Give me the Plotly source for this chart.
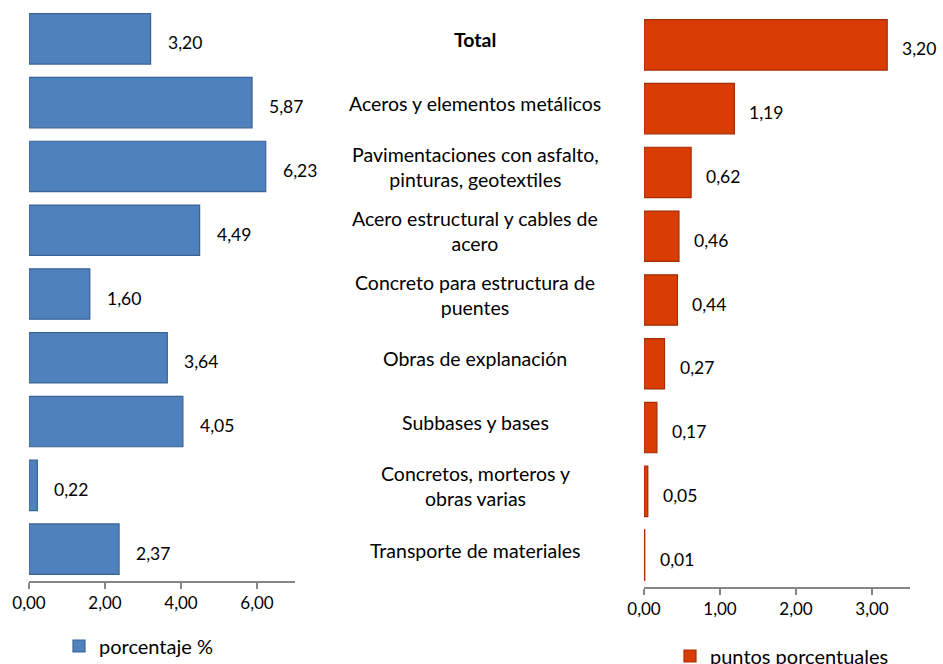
import plotly.graph_objects as go

categories = ["Total", "Aceros y elementos metálicos",
              "Pavimentaciones con asfalto, pinturas, geotextiles",
              "Acero estructural y cables de acero",
              "Concreto para estructura de puentes",
              "Obras de explanación", "Subbases y bases",
              "Concretos, morteros y obras varias",
              "Transporte de materiales"]
category_labels = ["<b>Total</b>", "Aceros y elementos metálicos",
                   "Pavimentaciones con asfalto,<br>pinturas, geotextiles",
                   "Acero estructural y cables de<br>acero",
                   "Concreto para estructura de<br>puentes",
                   "Obras de explanación", "Subbases y bases",
                   "Concretos, morteros y<br>obras varias",
                   "Transporte de materiales"]
porcentaje = [3.20, 5.87, 6.23, 4.49, 1.60, 3.64, 4.05, 0.22, 2.37]
puntos = [3.20, 1.19, 0.62, 0.46, 0.44, 0.27, 0.17, 0.05, 0.01]
left_ticks = [0, 2, 4, 6]
right_ticks = [0, 1, 2, 3]

W, H = 943, 664
FONT = "Lato"
TXT = "#000000"
AX = "#868686"


def fmt(v):
    return f"{v:.2f}".replace(".", ",")


fig = go.Figure()
fig.add_trace(go.Bar(
    x=porcentaje, y=categories, orientation="h", name="porcentaje %",
    marker=dict(color="#4F81BD", line=dict(color="#3A6395", width=1.2)),
    xaxis="x", yaxis="y", legend="legend", showlegend=True, hoverinfo="skip"))
fig.add_trace(go.Bar(
    x=puntos, y=categories, orientation="h", name="puntos porcentuales",
    marker=dict(color="#DA3C06", line=dict(color="#A32C02", width=1.2)),
    xaxis="x2", yaxis="y2", legend="legend2", showlegend=True, hoverinfo="skip"))

ann = []
for c, v in zip(categories, porcentaje):
    ann.append(dict(x=v, y=c, xref="x", yref="y", text=fmt(v), showarrow=False,
                    xanchor="left", xshift=15, yshift=-4,
                    font=dict(family=FONT, size=17.5, color=TXT)))
for c, v in zip(categories, puntos):
    ann.append(dict(x=v, y=c, xref="x2", yref="y2", text=fmt(v), showarrow=False,
                    xanchor="left", xshift=13, yshift=-4,
                    font=dict(family=FONT, size=17.5, color=TXT)))
for c, lab in zip(categories, category_labels):
    ann.append(dict(x=475 / W, y=c, xref="paper", yref="y2", text=lab, showarrow=False,
                    xanchor="center", yanchor="middle", align="center", yshift=5,
                    font=dict(family=FONT, size=19.5, color=TXT)))

axis_common = dict(showgrid=False, zeroline=False, showline=True, linecolor=AX,
                   linewidth=1.5, ticks="outside", ticklen=6, tickcolor=AX, tickwidth=1.5,
                   tickfont=dict(family=FONT, size=17, color=TXT), tickformat=".2f")

fig.update_layout(
    width=W, height=H, margin=dict(l=0, r=0, t=0, b=0, autoexpand=False),
    paper_bgcolor="white", plot_bgcolor="white", showlegend=True,
    separators=",.", bargap=0.21, annotations=ann,
    xaxis=dict(domain=[29 / W, 295 / W], range=[0, 7], tickvals=left_ticks,
               anchor="y", **axis_common),
    yaxis=dict(domain=[(H - 581) / H, (H - 7) / H], autorange="reversed",
               showticklabels=False, showline=False, showgrid=False, ticks="",
               anchor="x", categoryorder="array", categoryarray=categories),
    xaxis2=dict(domain=[644 / W, 910 / W], range=[0, 3.5], tickvals=right_ticks,
                anchor="y2", **axis_common),
    yaxis2=dict(domain=[(H - 587) / H, (H - 13) / H], autorange="reversed",
                showticklabels=False, showline=False, showgrid=False, ticks="",
                anchor="x2", categoryorder="array", categoryarray=categories),
    legend=dict(x=59 / W, y=(H - 646) / H, xanchor="left", yanchor="middle",
                bgcolor="rgba(0,0,0,0)", font=dict(family=FONT, size=20, color=TXT)),
    legend2=dict(x=670 / W, y=(H - 656) / H, xanchor="left", yanchor="middle",
                 bgcolor="rgba(0,0,0,0)", font=dict(family=FONT, size=20, color=TXT)),
)

fig.write_html("out.html", config={"displayModeBar": False},
               post_script="document.body.style.margin='0';document.body.style.overflow='hidden';")
